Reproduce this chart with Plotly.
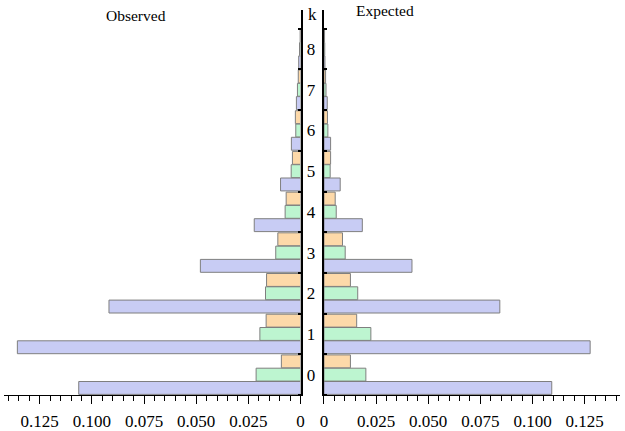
import plotly.graph_objects as go
from plotly.subplots import make_subplots

k = [0, 1, 2, 3, 4, 5, 6, 7, 8]
obs_blue = [0.1063, 0.1357, 0.0918, 0.0480, 0.0222, 0.0096, 0.0044, 0.0020, 0.0009]
obs_green = [0.0213, 0.0195, 0.0168, 0.0119, 0.0074, 0.0045, 0.0023, 0.0015, 0.0005]
obs_orange = [0.0092, 0.0165, 0.0163, 0.0109, 0.0069, 0.0039, 0.0025, 0.0011, 0.0002]
exp_blue = [0.1092, 0.1276, 0.0843, 0.0422, 0.0184, 0.0078, 0.0032, 0.0016, 0.0005]
exp_green = [0.0201, 0.0225, 0.0162, 0.0102, 0.0059, 0.0030, 0.0019, 0.0010, 0.0004]
exp_orange = [0.0127, 0.0157, 0.0127, 0.0089, 0.0054, 0.0032, 0.0017, 0.0008, 0.0003]
x_tickvals = [0, 0.025, 0.05, 0.075, 0.1, 0.125]
x_ticktext = ["0", "0.025", "0.050", "0.075", "0.100", "0.125"]

colors = ["#c8ccf4", "#bdf5d0", "#fdd9a9"]
edge = "#7f7f7f"
font = "Liberation Serif"

fig = make_subplots(rows=1, cols=2, shared_yaxes=False, horizontal_spacing=0)

for vals, c in zip([obs_blue, obs_green, obs_orange], colors):
    fig.add_trace(go.Bar(x=vals, y=k, orientation="h", marker=dict(color=c, line=dict(color=edge, width=1)),
                         showlegend=False), row=1, col=1)
for vals, c in zip([exp_blue, exp_green, exp_orange], colors):
    fig.add_trace(go.Bar(x=vals, y=k, orientation="h", marker=dict(color=c, line=dict(color=edge, width=1)),
                         showlegend=False), row=1, col=2)

W = 620.0
H_TOP, H_PLOT = 10.0, 385.0


def px_x(p):
    return p / W


def px_y(p):
    return 1 - (p - H_TOP) / H_PLOT


xaxis_common = dict(showline=True, linecolor="black", linewidth=1, ticks="outside", ticklen=8,
                    tickcolor="black", tickvals=x_tickvals, ticktext=x_ticktext, showgrid=False,
                    zeroline=False, tickfont=dict(family=font, size=17, color="black"),
                    ticklabelstandoff=3,
                    minor=dict(ticks="outside", ticklen=5, tickcolor="black", dtick=0.005, tick0=0, showgrid=False))
fig.update_layout(
    xaxis=dict(domain=[0, 298.5 / W], range=[0.1421, 0], **xaxis_common),
    xaxis2=dict(domain=[322 / W, 1], range=[0, 298 / 2100], **xaxis_common),
    yaxis=dict(range=[-0.5, 8.96], side="right", showline=True, linecolor="black", linewidth=1.5,
               tickvals=k, ticks="", showgrid=False, zeroline=False, ticklabelstandoff=1,
               tickfont=dict(family=font, size=17, color="black"),
               minor=dict(tickvals=[i - 0.5 for i in k] + [8.5], ticks="inside", ticklen=3,
                          tickcolor="black", tickwidth=2, showgrid=False)),
    yaxis2=dict(range=[-0.5, 8.96], side="left", showline=True, linecolor="black", linewidth=1.5,
                tickvals=k, showticklabels=False, ticks="", showgrid=False, zeroline=False,
                minor=dict(tickvals=[i - 0.5 for i in k] + [8.5], ticks="inside", ticklen=3,
                           tickcolor="black", tickwidth=2, showgrid=False)),
    barmode="group", bargap=0.02, bargroupgap=0.03,
    width=625, height=431, margin=dict(l=0, r=5, t=10, b=36),
    plot_bgcolor="white", paper_bgcolor="white",
    annotations=[
        dict(text="Observed", x=px_x(133), y=px_y(15), xref="paper", yref="paper", showarrow=False,
             xanchor="center", yanchor="middle", font=dict(family=font, size=15.5, color="black")),
        dict(text="Expected", x=px_x(383), y=px_y(10), xref="paper", yref="paper", showarrow=False,
             xanchor="center", yanchor="middle", font=dict(family=font, size=15.5, color="black")),
        dict(text="k", x=px_x(311), y=px_y(14), xref="paper", yref="paper", showarrow=False,
             xanchor="center", yanchor="middle", font=dict(family=font, size=17, color="black")),
    ],
)
fig.write_html("out.html", config={"displayModeBar": False},
               post_script="document.body.style.margin='0';document.body.style.overflow='hidden';")
